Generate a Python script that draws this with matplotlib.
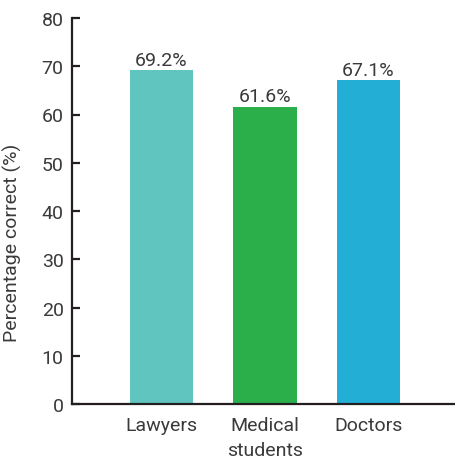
import matplotlib
matplotlib.use("Agg")
import matplotlib.pyplot as plt

groups = ["Lawyers", "Medical\nstudents", "Doctors"]
pct_correct = [69.2, 61.6, 67.1]
bar_colors = ["#5FC5BE", "#2BAF4A", "#23AFD5"]
yticks = [0, 10, 20, 30, 40, 50, 60, 70, 80]

plt.rcParams["font.family"] = ["Roboto", "DejaVu Sans"]
txt = "#3a3a3a"
ink = "#231F20"
fs = 14

fig = plt.figure(figsize=(4.55, 4.6), dpi=100)
ax = fig.add_axes([72 / 455, 1 - 405 / 460, 1 - 72 / 455, (405 - 19) / 460])

x = list(range(len(groups)))
bars = ax.bar(x, pct_correct, width=0.61, color=bar_colors)
for b, v in zip(bars, pct_correct):
    ax.text(b.get_x() + b.get_width() / 2, v + 0.3, f"{v}%", ha="center", va="bottom",
            fontsize=fs, color=txt)

ax.set_xlim(-0.865, 2.836)
ax.set_ylim(0, 80)
ax.set_yticks(yticks)
ax.set_xticks(x)
ax.set_xticklabels(groups, fontsize=fs, color=txt, linespacing=1.5)
ax.tick_params(axis="y", direction="in", length=6, width=1.6, color=ink,
               labelsize=fs, labelcolor=txt, pad=6)
ax.tick_params(axis="x", length=0, pad=9)

for s in ["top", "right"]:
    ax.spines[s].set_visible(False)
ax.spines["left"].set_linewidth(1.6)
ax.spines["left"].set_color(ink)
ax.spines["bottom"].set_linewidth(1.6)
ax.spines["bottom"].set_color(ink)

ax.set_ylabel("Percentage correct (%)", fontsize=fs, color=txt)
ax.yaxis.set_label_coords(-0.13, 0.42)

fig.savefig("out.png", dpi=100)
